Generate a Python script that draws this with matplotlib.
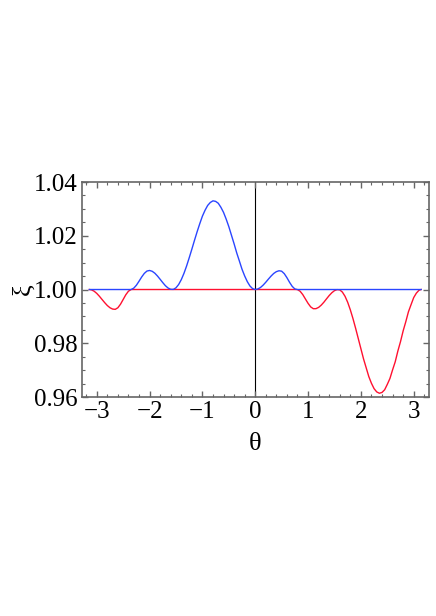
import matplotlib

matplotlib.use("Agg")
import matplotlib.pyplot as plt
from matplotlib.ticker import MultipleLocator

# theta samples
theta = [-3.14, -3.10, -3.05, -3.00, -2.95, -2.90, -2.85, -2.80, -2.75, -2.70,
         -2.65, -2.60, -2.55, -2.50, -2.45, -2.40, -2.35, -2.30, -2.25, -2.20,
         -2.15, -2.10, -2.05, -2.00, -1.95, -1.90, -1.85, -1.80, -1.75, -1.70,
         -1.65, -1.60, -1.55, -1.50, -1.45, -1.40, -1.35, -1.30, -1.25, -1.20,
         -1.15, -1.10, -1.05, -1.00, -0.95, -0.90, -0.85, -0.80, -0.75, -0.70,
         -0.65, -0.60, -0.55, -0.50, -0.45, -0.40, -0.35, -0.30, -0.25, -0.20,
         -0.15, -0.10, -0.05, 0.00, 0.05, 0.10, 0.15, 0.20, 0.25, 0.30,
         0.35, 0.40, 0.45, 0.50, 0.55, 0.60, 0.65, 0.70, 0.75, 0.80,
         0.85, 0.90, 0.95, 1.00, 1.05, 1.10, 1.15, 1.20, 1.25, 1.30,
         1.35, 1.40, 1.45, 1.50, 1.55, 1.60, 1.65, 1.70, 1.75, 1.80,
         1.85, 1.90, 1.95, 2.00, 2.05, 2.10, 2.15, 2.20, 2.25, 2.30,
         2.35, 2.40, 2.45, 2.50, 2.55, 2.60, 2.65, 2.70, 2.75, 2.80,
         2.85, 2.90, 2.95, 3.00, 3.05, 3.10, 3.14]

# deviation of xi from 1, in units of 1e-3
blue_dev = [0, 0, 0, 0, 0, 0, 0, 0, 0, 0,
            0, 0, 0, 0, 0, 0, 0.01, 0.50, 1.59, 3.08,
            4.65, 6.0, 6.87, 7.09, 6.78, 6.06, 5.01, 3.80, 2.56, 1.41,
            0.56, 0.08, 0.05, 0.64, 1.86, 3.67, 5.98, 8.72, 11.8, 15.0,
            18.3, 21.5, 24.5, 27.3, 29.5, 31.3, 32.4, 33.0, 32.8, 32.1,
            30.6, 28.7, 26.2, 23.4, 20.2, 17.0, 13.6, 10.6, 7.54, 5.05,
            2.93, 1.31, 0.33, 0, 0.20, 0.76, 1.64, 2.72, 3.89, 5.01,
            5.98, 6.65, 6.98, 6.82, 5.90, 4.40, 2.68, 1.17, 0.21, 0,
            0, 0, 0, 0, 0, 0, 0, 0, 0, 0,
            0, 0, 0, 0, 0, 0, 0, 0, 0, 0,
            0, 0, 0, 0, 0, 0, 0, 0, 0, 0,
            0, 0, 0, 0, 0, 0, 0, 0, 0, 0,
            0, 0, 0, 0, 0, 0, 0]

red_dev = [0, -0.13, -0.62, -1.44, -2.51, -3.7, -4.88, -5.96, -6.78, -7.27,
           -7.38, -6.78, -5.45, -3.7, -1.95, -0.62, -0.02, 0, 0, 0,
           0, 0, 0, 0, 0, 0, 0, 0, 0, 0,
           0, 0, 0, 0, 0, 0, 0, 0, 0, 0,
           0, 0, 0, 0, 0, 0, 0, 0, 0, 0,
           0, 0, 0, 0, 0, 0, 0, 0, 0, 0,
           0, 0, 0, 0, 0, 0, 0, 0, 0, 0,
           0, 0, 0, 0, 0, 0, 0, 0, 0, -0.04,
           -0.65, -1.89, -3.52, -5.14, -6.47, -7.14, -7.12, -6.65, -5.80, -4.71,
           -3.46, -2.24, -1.20, -0.42, -0.04, -0.13, -0.96, -2.52, -4.74, -7.55,
           -10.8, -14.4, -18.2, -22.0, -25.8, -29.1, -32.4, -34.9, -36.9, -38.1,
           -38.6, -38.3, -37.3, -35.3, -33.1, -29.9, -26.9, -22.9, -19.4, -15.4,
           -12.0, -8.3, -5.62, -3.0, -1.35, -0.27, 0]

xi_blue = [1 + d * 1e-3 for d in blue_dev]
xi_red = [1 + d * 1e-3 for d in red_dev]

plt.rcParams["font.family"] = ["Liberation Serif", "DejaVu Serif"]

fig = plt.figure(figsize=(4.36, 6.16), dpi=100)
ax = fig.add_axes([0.188, 0.3555, 0.796, 0.349])

ax.axvline(0, color="black", lw=0.8, zorder=1)
ax.plot(theta, xi_blue, color="#2a45ff", lw=1.0, zorder=3)
ax.plot(theta, xi_red, color="#ff1030", lw=1.0, zorder=2)

ax.set_xlim(-3.28, 3.29)
ax.set_ylim(0.96, 1.04)
ax.xaxis.set_major_locator(MultipleLocator(1))
ax.xaxis.set_minor_locator(MultipleLocator(0.2))
ax.yaxis.set_major_locator(MultipleLocator(0.02))
ax.yaxis.set_minor_locator(MultipleLocator(0.005))
ax.xaxis.set_major_formatter(lambda v, p: f"{v:.0f}".replace("-", "\u2212"))
ax.yaxis.set_major_formatter(lambda v, p: f"{v:.2f}")

ax.tick_params(which="both", direction="in", top=True, right=True,
               color="#666666", labelsize=18, pad=3)
ax.tick_params(which="major", length=4, width=1.0)
ax.tick_params(which="minor", length=2, width=0.8)
for s in ax.spines.values():
    s.set_color("#666666")
    s.set_linewidth(1.2)

ax.set_xlabel("\u03b8", fontsize=19, labelpad=7)
# y label lies on its side, just left of the 1.00 tick label
fig.text(23 / 436, 1 - 289 / 616, "\u03be", fontsize=19, rotation=90,
         ha="center", va="center")

fig.savefig("out.png", dpi=100)
